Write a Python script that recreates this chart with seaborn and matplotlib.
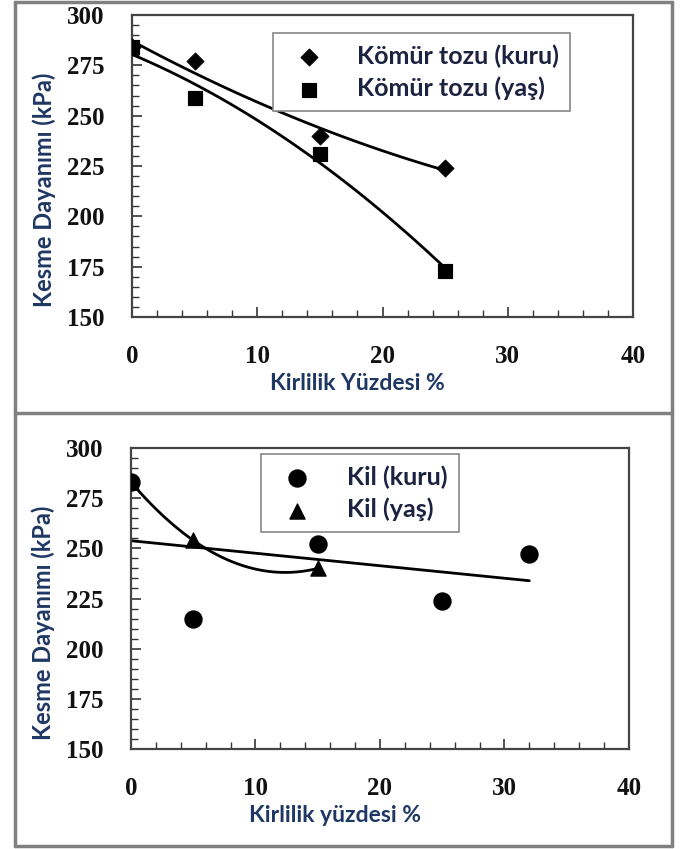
import matplotlib
matplotlib.use("Agg")
import matplotlib.pyplot as plt
import numpy as np
import pandas as pd
import seaborn as sns
from matplotlib.lines import Line2D
from matplotlib.ticker import MultipleLocator

sns.set_theme(style="white")
plt.rcParams["font.family"] = ["Lato", "DejaVu Sans"]

# top panel: Kömür tozu
komur_x = [0, 5, 15, 25]
komur_kuru = [284, 277, 240, 224]
komur_yas = [284, 259, 231, 173]

# bottom panel: Kil
kil_kuru_x = [0, 5, 15, 25, 32]
kil_kuru = [283, 215, 252, 224, 247]
kil_yas_x = [0, 5, 15]
kil_yas = [283, 254, 240]

label_col = "#1F3763"
text_col = "#1c2340"

fig = plt.figure(figsize=(6.83, 8.49), dpi=100)
ax1 = fig.add_axes([0.1933, 0.6266, 0.7335, 0.3557])
ax2 = fig.add_axes([0.1918, 0.1178, 0.7290, 0.3545])

line_kws = dict(color="black", lw=2)


def style_axes(ax, xlabel, xlab_pos):
    ax.set_xlim(0, 40)
    ax.set_ylim(150, 300)
    ax.xaxis.set_major_locator(MultipleLocator(10))
    ax.xaxis.set_minor_locator(MultipleLocator(2))
    ax.yaxis.set_major_locator(MultipleLocator(25))
    ax.yaxis.set_minor_locator(MultipleLocator(5))
    ax.tick_params(which="both", direction="in", top=False, right=False,
                   left=True, bottom=True, color="#333333")
    ax.tick_params(axis="x", which="major", length=7, width=1.2, pad=20)
    ax.tick_params(axis="y", which="major", length=7, width=1.2, pad=20)
    ax.tick_params(which="minor", length=5, width=1)
    for lab in ax.get_xticklabels() + ax.get_yticklabels():
        lab.set_fontfamily("Liberation Serif")
        lab.set_fontweight("bold")
        lab.set_fontsize(18)
        lab.set_color("#111111")
    for sp in ax.spines.values():
        sp.set_color("#444444")
        sp.set_linewidth(1.6)
    ax.set_xlabel(xlabel, fontsize=16.5, fontweight="bold", color=label_col)
    ax.set_ylabel("Kesme Dayanımı (kPa)", fontsize=17, fontweight="bold",
                  color=label_col)
    ax.xaxis.set_label_coords(xlab_pos, -0.185)
    ax.yaxis.set_label_coords(-0.152, 0.42)


# ---- top
df_top = pd.DataFrame({"x": komur_x, "kuru": komur_kuru, "yas": komur_yas})
sns.regplot(data=df_top, x="x", y="kuru", order=2, ci=None, scatter=False,
            ax=ax1, line_kws=line_kws)
sns.regplot(data=df_top, x="x", y="yas", order=2, ci=None, scatter=False,
            ax=ax1, line_kws=line_kws)
sns.scatterplot(data=df_top, x="x", y="kuru", marker="D", s=75, color="black",
                edgecolor="black", ax=ax1, label="Kömür tozu (kuru)", zorder=3)
sns.scatterplot(data=df_top, x="x", y="yas", marker="s", s=110, color="black",
                edgecolor="black", ax=ax1, label="Kömür tozu (yaş)", zorder=3)
style_axes(ax1, "Kirlilik Yüzdesi %", 0.45)

# ---- bottom
df_kk = pd.DataFrame({"x": kil_kuru_x, "y": kil_kuru})
df_ky = pd.DataFrame({"x": kil_yas_x, "y": kil_yas})
sns.regplot(data=df_kk, x="x", y="y", order=1, ci=None, scatter=False,
            ax=ax2, line_kws=line_kws)
sns.regplot(data=df_ky, x="x", y="y", order=2, ci=None, scatter=False,
            ax=ax2, line_kws=line_kws)
sns.scatterplot(data=df_kk, x="x", y="y", marker="o", s=150, color="black",
                edgecolor="black", ax=ax2, label="Kil (kuru)", zorder=3)
sns.scatterplot(data=df_ky, x="x", y="y", marker="^", s=120, color="black",
                edgecolor="black", ax=ax2, label="Kil (yaş)", zorder=3)
style_axes(ax2, "Kirlilik yüzdesi %", 0.41)

for ax, anchor, htp in [(ax1, (0.281, 0.940), 0.9), (ax2, (0.261, 0.980), 1.0)]:
    leg = ax.legend(loc="upper left", bbox_to_anchor=anchor, fancybox=False,
                    framealpha=1, edgecolor="#888888", borderpad=0.45,
                    handletextpad=htp, labelspacing=0.35, borderaxespad=0,
                    prop=dict(family="Lato", weight="bold", size=18))
    leg.get_frame().set_linewidth(1.2)
    for t in leg.get_texts():
        t.set_color(text_col)

# outer frame and divider
gray = "#808080"
x0, x1 = 15 / 683, 672 / 683
y_top, y_bot, y_mid = 1 - 1.5 / 849, 1 - 846 / 849, 1 - 413 / 849
for xs, ys in [((x0, x1), (y_top, y_top)), ((x0, x1), (y_bot, y_bot)),
               ((x0, x0), (y_bot, y_top)), ((x1, x1), (y_bot, y_top)),
               ((x0, x1), (y_mid, y_mid))]:
    fig.add_artist(Line2D(xs, ys, transform=fig.transFigure, color=gray, lw=2.5))

fig.savefig("out.png", dpi=100)
